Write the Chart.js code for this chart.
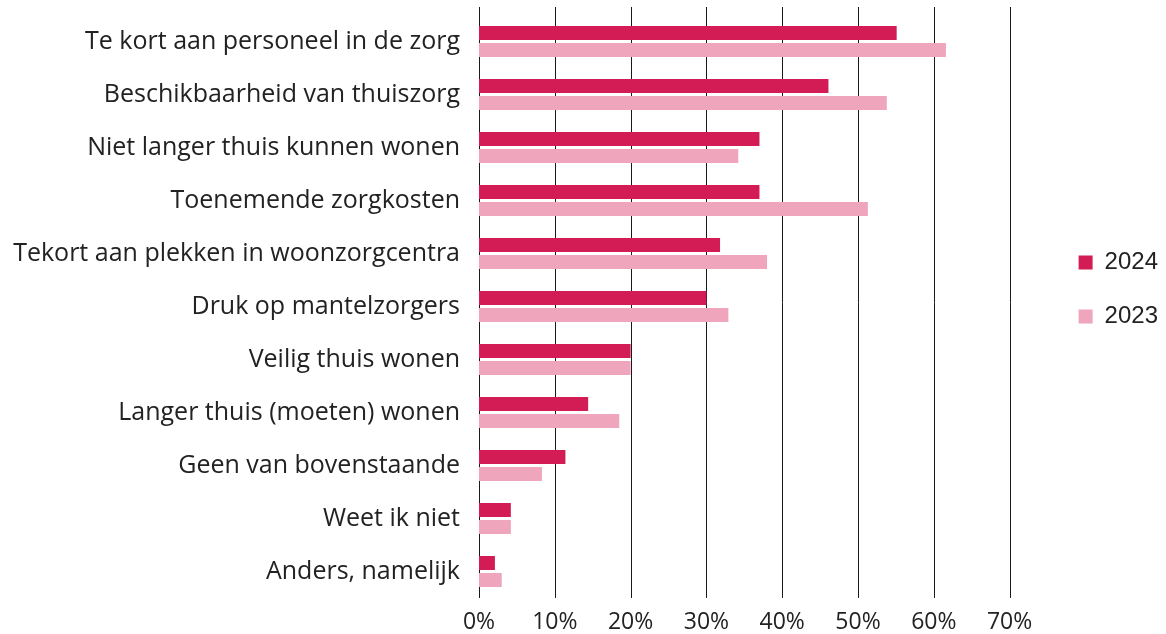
<!DOCTYPE html>
<html>
<head>
<meta charset="utf-8">
<script src="https://cdn.jsdelivr.net/npm/chart.js@4"></script>
<style>
  html, body { margin: 0; padding: 0; background: #fff; }
  #wrap { width: 1166px; height: 634px; }
</style>
</head>
<body>
<div id="wrap"><canvas id="chart"></canvas></div>
<script>
const categories = [
  "Te kort aan personeel in de zorg",
  "Beschikbaarheid van thuiszorg",
  "Niet langer thuis kunnen wonen",
  "Toenemende zorgkosten",
  "Tekort aan plekken in woonzorgcentra",
  "Druk op mantelzorgers",
  "Veilig thuis wonen",
  "Langer thuis (moeten) wonen",
  "Geen van bovenstaande",
  "Weet ik niet",
  "Anders, namelijk"
];
const values2024 = [55.1, 46.1, 37.0, 37.0, 31.8, 30.0, 20.0, 14.4, 11.4, 4.2, 2.1];
const values2023 = [61.6, 53.8, 34.2, 51.3, 38.0, 32.9, 20.0, 18.5, 8.3, 4.2, 3.0];
const xTicks = ["0%", "10%", "20%", "30%", "40%", "50%", "60%", "70%"];

const labelFont = "'Open Sans', 'Noto Sans', sans-serif";

// grid lines reach a bit above the plot area, legend sits a bit off the plot
const extras = {
  id: "extras",
  afterLayout(chart) {
    const lg = chart.legend;
    lg.left += 39; lg.right += 39;
    lg.top -= 35; lg.bottom -= 35;
  },
  beforeDatasetsDraw(chart) {
    const x = chart.scales.x, ctx = chart.ctx;
    const { top, bottom } = chart.chartArea;
    ctx.save();
    ctx.strokeStyle = "#1a1a1a";
    ctx.lineWidth = 1;
    x.ticks.forEach(t => {
      const px = Math.round(x.getPixelForValue(t.value)) + 0.5;
      ctx.beginPath();
      ctx.moveTo(px, top - 8);
      ctx.lineTo(px, bottom);
      ctx.stroke();
    });
    ctx.restore();
  }
};

new Chart(document.getElementById("chart"), {
  type: "bar",
  data: {
    labels: categories,
    datasets: [
      { label: "2024", data: values2024, backgroundColor: "#d31b56",
        categoryPercentage: 0.64, barPercentage: 0.82 },
      { label: "2023", data: values2023, backgroundColor: "#efa5bb",
        categoryPercentage: 0.64, barPercentage: 0.82 }
    ]
  },
  plugins: [extras],
  options: {
    indexAxis: "y",
    responsive: true,
    maintainAspectRatio: false,
    animation: false,
    layout: { padding: { top: 15, right: 37, bottom: 0, left: 0 } },
    plugins: {
      tooltip: { enabled: false },
      legend: {
        position: "right",
        labels: {
          boxWidth: 14, boxHeight: 14, padding: 30,
          color: "#222",
          font: { family: "'Liberation Sans', Arial, sans-serif", size: 24 }
        }
      }
    },
    scales: {
      x: {
        min: 0, max: 70,
        border: { display: false },
        grid: { display: false, drawTicks: false },
        afterFit(s) { s.height = 36; },
        ticks: {
          stepSize: 10, padding: 11, color: "#222",
          font: { family: labelFont, size: 23 },
          callback: v => xTicks[v / 10]
        }
      },
      y: {
        border: { display: false },
        grid: { display: false, drawTicks: false },
        afterFit(s) { s.width = 479; s.paddingTop = 0; s.paddingBottom = 0; },
        ticks: {
          padding: 19, color: "#222",
          font: { family: labelFont, size: 25 }
        }
      }
    }
  }
});
</script>
</body>
</html>
